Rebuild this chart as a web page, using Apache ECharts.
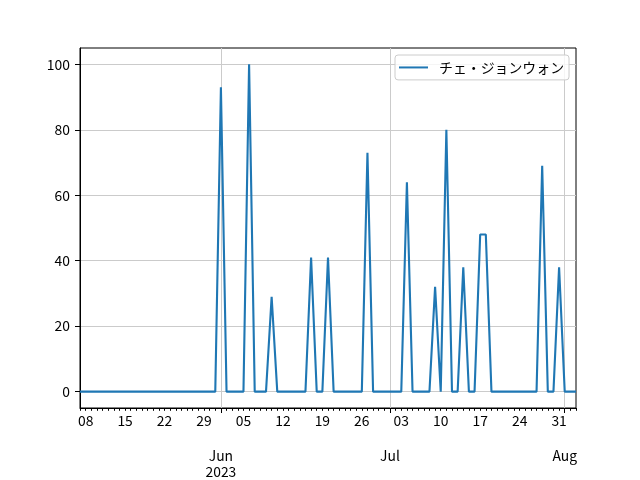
<!DOCTYPE html>
<html>
<head>
<meta charset="utf-8">
<script src="https://cdn.jsdelivr.net/npm/echarts@6/dist/echarts.min.js"></script>
<style>
html,body{margin:0;padding:0;background:#fff;}
#chart{width:640px;height:480px;}
</style>
</head>
<body>
<div id="chart"></div>
<script>
// ---- data ----
const seriesName = 'チェ・ジョンウォン';
const startDate = '2023-05-07';
const endDate = '2023-08-03';
const values = [
  0,0,0,0,0,0,0,0,0,0, 0,0,0,0,0,0,0,0,0,0, 0,0,0,0,0,      // May 7 - May 31
  93,0,0,0,0,100,0,0,0,29, 0,0,0,0,0,0,41,0,0,41,           // Jun 1 - Jun 20
  0,0,0,0,0,0,73,0,0,0,                                      // Jun 21 - Jun 30
  0,0,0,64,0,0,0,0,32,0, 80,0,0,38,0,0,48,48,0,0,            // Jul 1 - Jul 20
  0,0,0,0,0,0,0,69,0,0, 38,                                  // Jul 21 - Jul 31
  0,0,0                                                      // Aug 1 - Aug 3
];
const weekLabelDates = ['2023-05-08','2023-05-15','2023-05-22','2023-05-29','2023-06-05','2023-06-12',
  '2023-06-19','2023-06-26','2023-07-03','2023-07-10','2023-07-17','2023-07-24','2023-07-31'];
const monthTickDates = ['2023-06-01','2023-07-01','2023-08-01'];
const monthLabels = ['Jun\n2023','Jul','Aug'];
const yTicks = [0,20,40,60,80,100];

// ---- helpers ----
const DAY = 86400000;
const base = Date.parse(startDate + 'T00:00:00Z');
const toDay = s => Math.round((Date.parse(s + 'T00:00:00Z') - base) / DAY);
const maxDay = toDay(endDate);
const dailyTicks = [];
for (let i = 0; i <= maxDay; i++) dailyTicks.push(i);
const weekTicks = weekLabelDates.map(toDay);
const monthTicks = monthTickDates.map(toDay);
const seriesData = values.map((v, i) => [i, v]);

const FONT = '"Noto Sans CJK JP", "DejaVu Sans", sans-serif';
const FS = 13.9;
const GRID = '#cbcbcb';

const chart = echarts.init(document.getElementById('chart'), null, {renderer: 'canvas'});
chart.setOption({
  animation: false,
  backgroundColor: '#fff',
  textStyle: {fontFamily: FONT},
  grid: {left: 80, right: 64, top: 48, bottom: 72, show: true, borderColor: '#000', borderWidth: 1,
         containLabel: false, outerBoundsMode: 'none'},
  legend: {
    left: 395, top: 55,
    padding: [5.5, 5, 5.5, 4],
    itemWidth: 29, itemHeight: 2,
    icon: 'rect',
    borderColor: '#cccccc', borderWidth: 1, borderRadius: 3,
    backgroundColor: 'rgba(255,255,255,0.8)',
    textStyle: {fontFamily: FONT, fontSize: FS, color: '#000', padding: [0, 0, 0, 6]},
    data: [seriesName]
  },
  xAxis: [
    {
      type: 'value', min: 0, max: maxDay, position: 'bottom',
      axisLine: {show: true, onZero: false, lineStyle: {color: '#000', width: 1}},
      axisTick: {show: true, customValues: dailyTicks, length: 2.8, lineStyle: {color: '#000', width: 1}},
      axisLabel: {
        show: true, customValues: weekTicks, margin: 6,
        fontFamily: FONT, fontSize: FS, color: '#000', lineHeight: 14,
        formatter: v => String(new Date(base + v * DAY).getUTCDate()).padStart(2, '0')
      },
      splitLine: {show: false}
    },
    {
      type: 'value', min: 0, max: maxDay, position: 'bottom',
      axisLine: {show: false, onZero: false},
      axisTick: {show: true, customValues: monthTicks, length: 5, lineStyle: {color: '#000', width: 1}},
      axisLabel: {
        show: true, customValues: monthTicks, margin: 39.5,
        fontFamily: FONT, fontSize: FS, color: '#000', lineHeight: 16,
        formatter: v => monthLabels[monthTicks.indexOf(Math.round(v))] || ''
      },
      splitLine: {show: true, lineStyle: {color: GRID, width: 1}}
    }
  ],
  yAxis: {
    type: 'value', min: -5, max: 105,
    axisLine: {show: true, onZero: false, lineStyle: {color: '#000', width: 1}},
    axisTick: {show: true, customValues: yTicks, length: 5, lineStyle: {color: '#000', width: 1}},
    axisLabel: {show: true, customValues: yTicks, margin: 10, fontFamily: FONT, fontSize: FS, color: '#000'},
    splitLine: {show: true, lineStyle: {color: GRID, width: 1}}
  },
  series: [{
    name: seriesName,
    type: 'line',
    xAxisIndex: 0,
    data: seriesData,
    symbol: 'none',
    lineStyle: {color: '#1f77b4', width: 2.1},
    itemStyle: {color: '#1f77b4'}
  }]
});
</script>
</body>
</html>
